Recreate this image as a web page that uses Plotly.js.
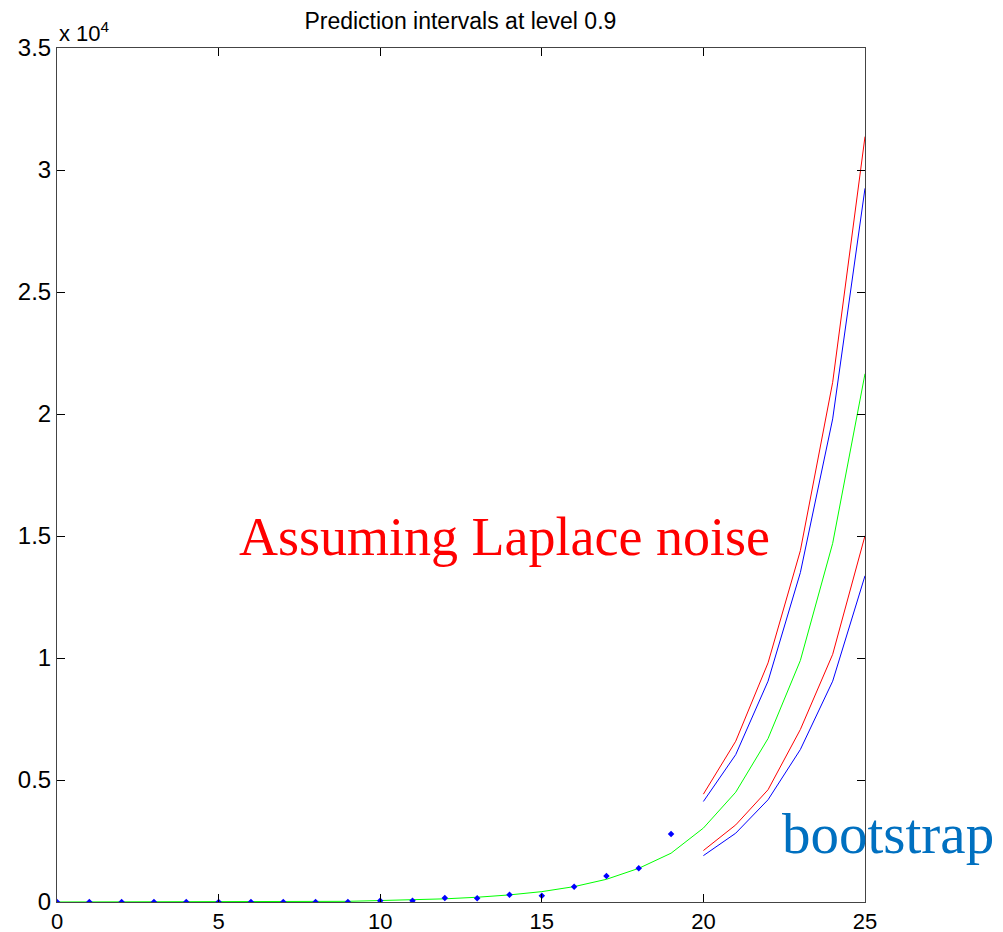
<!DOCTYPE html>
<html>
<head>
<meta charset="utf-8">
<script src="https://cdn.plot.ly/plotly-3.0.1.min.js"></script>
<style>html,body{margin:0;padding:0;background:#fff;}#chart{width:1003px;height:932px;}</style>
</head>
<body>
<div id="chart"></div>
<script>
// Observed data
const obsX = [0,1,2,3,4,5,6,7,8,9,10,11,12,13,14,15,16,17,18,19];
const obsY = [0,0,0,0,0,0,0,0,0,0,50,50,160,150,300,255,630,1070,1380,2790];

// Fitted curve
const fitX = [0,1,2,3,4,5,6,7,8,9,10,11,12,13,14,15,16,17,18,19,20,21,22,23,24,25];
const fitY = [1,1,2,3,4,6,8,12,18,28,60,90,130,195,290,425,630,930,1380,2000,3030,4500,6700,9900,14700,21650];

// Prediction intervals (x = 20..25)
const predX = [20,21,22,23,24,25];
const laplaceUpper = [4420,6590,9800,14400,21300,31370];
const laplaceLower = [2110,3160,4600,7070,10150,15010];
const bootUpper = [4120,6040,9050,13500,19800,29250];
const bootLower = [1900,2820,4190,6250,9050,13370];

const yTickVals = [0,5000,10000,15000,20000,25000,30000,35000];
const yTickText = ['0','0.5','1','1.5','2','2.5','3','3.5'];
const xTickVals = [0,5,10,15,20,25];

const traces = [
  {x: fitX, y: fitY, type:'scatter', mode:'lines', line:{color:'#00ff00', width:1}},
  {x: predX, y: laplaceUpper, type:'scatter', mode:'lines', line:{color:'#ff0000', width:1}},
  {x: predX, y: laplaceLower, type:'scatter', mode:'lines', line:{color:'#ff0000', width:1}},
  {x: predX, y: bootUpper, type:'scatter', mode:'lines', line:{color:'#0000ff', width:1}},
  {x: predX, y: bootLower, type:'scatter', mode:'lines', line:{color:'#0000ff', width:1}},
  {x: obsX, y: obsY, type:'scatter', mode:'markers', marker:{color:'#0000ff', size:5, symbol:'diamond'}}
];

const layout = {
  width:1003, height:932,
  margin:{l:57, r:138, t:48, b:30},
  paper_bgcolor:'#fff', plot_bgcolor:'#fff',
  showlegend:false,
  font:{family:'Liberation Sans, Arial, sans-serif', color:'#000'},
  title:{text:'Prediction intervals at level 0.9', font:{size:23, color:'#000'}, x:0.459, xanchor:'center', xref:'container', yref:'container', y:0.977, yanchor:'middle'},
  xaxis:{range:[0,25], tickvals:xTickVals, ticks:'inside', ticklen:8, tickcolor:'#000', showline:true, linecolor:'#444', linewidth:1, mirror:'ticks', showgrid:false, zeroline:false, tickfont:{size:22, color:'#000'}, ticklabelstandoff:0},
  yaxis:{range:[0,35000], tickvals:yTickVals, ticktext:yTickText, ticks:'inside', ticklen:8, tickcolor:'#000', showline:true, linecolor:'#444', linewidth:1, mirror:'ticks', showgrid:false, zeroline:false, tickfont:{size:24, color:'#000'}},
  annotations:[
    {text:'x 10<sup>4</sup>', xref:'paper', yref:'paper', x:0, y:1, xanchor:'left', yanchor:'bottom', showarrow:false, font:{size:22, color:'#000'}, yshift:0},
    {text:'Assuming Laplace noise', xref:'paper', yref:'paper', x:0.2228, y:0.427, xanchor:'left', yanchor:'middle', showarrow:false, font:{family:'Liberation Serif, DejaVu Serif, serif', size:54, color:'#ff0000'}},
    {text:'bootstrap', xref:'paper', yref:'paper', x:0.895, y:0.08, xanchor:'left', yanchor:'middle', showarrow:false, font:{family:'Liberation Serif, DejaVu Serif, serif', size:57, color:'#0070c0'}}
  ]
};

Plotly.newPlot('chart', traces, layout, {displayModeBar:false, staticPlot:true});
</script>
</body>
</html>
